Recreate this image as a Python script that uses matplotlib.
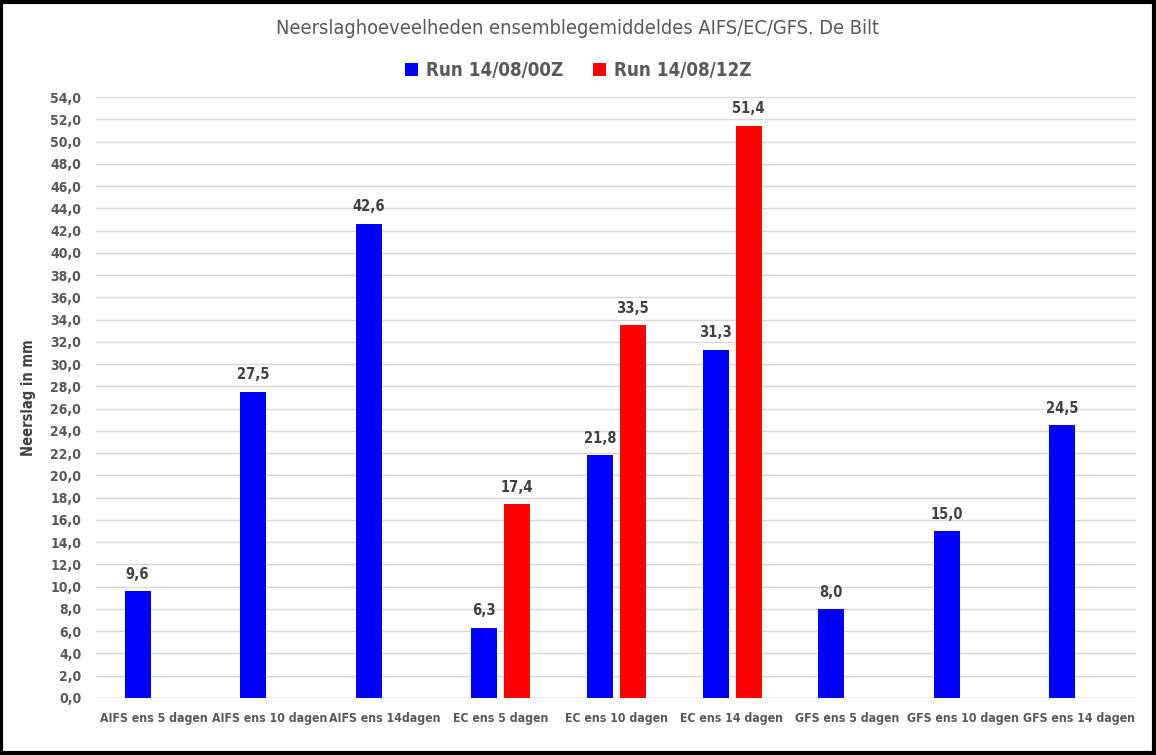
import matplotlib.pyplot as plt
import numpy as np

# Categorieën en waarden (NaN = geen run)
categories = ["AIFS ens 5 dagen", "AIFS ens 10 dagen", "AIFS ens 14dagen",
              "EC ens 5 dagen", "EC ens 10 dagen", "EC ens 14 dagen",
              "GFS ens 5 dagen", "GFS ens 10 dagen", "GFS ens 14 dagen"]
run_00z = [9.6, 27.5, 42.6, 6.3, 21.8, 31.3, 8.0, 15.0, 24.5]
run_12z = [np.nan, np.nan, np.nan, 17.4, 33.5, 51.4, np.nan, np.nan, np.nan]
yticks = np.arange(0, 56, 2)

plt.rcParams['font.family'] = ['DejaVu Sans']
plt.rcParams['font.stretch'] = 'condensed'
grey = "#595959"

fig = plt.figure(figsize=(11.56, 7.55), dpi=100)
ax = fig.add_axes([0.083, 0.0755, 0.9, 0.796])

x = np.arange(len(categories))
w = 0.225
b1 = ax.bar(x - 0.14, run_00z, w, color="#0000ff", label="Run 14/08/00Z", zorder=3)
b2 = ax.bar(x + 0.145, run_12z, w, color="#ff0000", label="Run 14/08/12Z", zorder=3)

for bars, vals in [(b1, run_00z), (b2, run_12z)]:
    for r, v in zip(bars, vals):
        if np.isnan(v):
            continue
        ax.text(r.get_x() + r.get_width() / 2, v + 0.85, f"{v:.1f}".replace(".", ","),
                ha="center", va="bottom", fontsize=10.5, fontweight="bold", color="#404040")

ax.set_xlim(-0.5, len(categories) - 0.5)
ax.set_ylim(0, 54)
ax.set_yticks(yticks)
ax.set_yticklabels([f"{t:.1f}".replace(".", ",") for t in yticks],
                   fontsize=10, fontweight="bold", color=grey)
ax.set_xticks(x)
ax.set_xticklabels(categories, fontsize=8.8, fontweight="bold", color=grey)
ax.tick_params(length=0)
ax.tick_params(axis="x", pad=10)
ax.tick_params(axis="y", pad=10.5)
ax.grid(axis="y", color="#d9d9d9", linewidth=1, zorder=0)
for s in ax.spines.values():
    s.set_visible(False)
ax.axhline(0, color="#d9d9d9", linewidth=1, zorder=1)

ax.set_ylabel("Neerslag in mm", fontsize=10.5, fontweight="bold", color="#404040", labelpad=10)

fig.text(0.5, 0.962, "Neerslaghoeveelheden ensemblegemiddeldes AIFS/EC/GFS. De Bilt",
         ha="center", va="center", fontsize=14.3, color=grey)
fig.legend(handles=[b1, b2], loc="center", bbox_to_anchor=(0.5, 0.906), ncol=2,
           frameon=False, prop={"size": 13.5, "weight": "bold"}, labelcolor=grey,
           handlelength=0.7, handleheight=0.7, columnspacing=1.6, handletextpad=0.4)

# zwarte rand rond de figuur
fig.patches.append(plt.Rectangle((0.001, 0.002), 0.997, 0.995, transform=fig.transFigure,
                                 fill=False, edgecolor="black", linewidth=3))

plt.savefig("out.png", dpi=100)
